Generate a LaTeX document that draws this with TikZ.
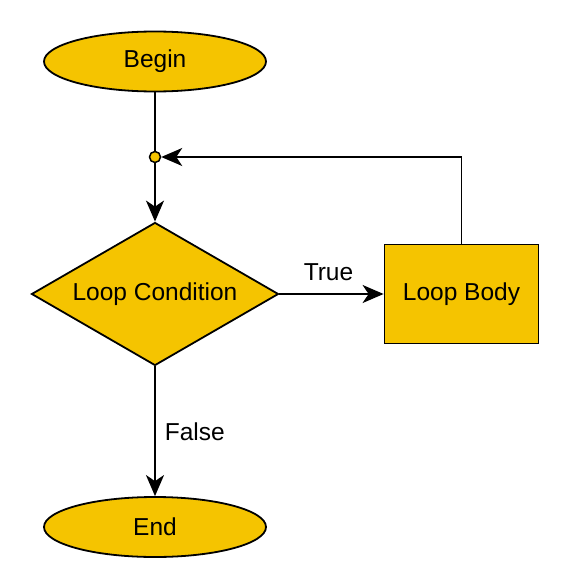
\documentclass[tikz,border=0pt]{standalone}
\usepackage{fontspec}
\setmainfont{Liberation Sans}
\usetikzlibrary{shapes.geometric,arrows.meta}
\definecolor{gold}{RGB}{245,196,0}
\begin{document}
\begin{tikzpicture}[x=1pt,y=-1pt,
  base/.style={draw=black, line width=1.8pt, fill=gold, inner sep=0pt, font=\fontsize{24.5}{28}\selectfont},
  term/.style={base, ellipse, minimum width=222pt, minimum height=60pt},
  dec/.style={base, diamond, aspect=1.73, minimum width=247pt, minimum height=143pt},
  proc/.style={base, rectangle, minimum width=154pt, minimum height=99pt},
  junction/.style={circle, draw=black, line width=1.5pt, fill=gold, minimum size=11pt, inner sep=0pt},
  conn/.style={draw=black, line width=1.8pt},
  arr/.style={conn, -{Stealth[length=21pt, width=18pt, inset=6pt]}},
  lbl/.style={font=\fontsize{24.5}{28}\selectfont, inner sep=0pt}
]
\useasboundingbox[fill=white] (0,0) rectangle (570,586);
\node[term] (begin) at (155,61.5) {Begin};
\node[junction] (dot) at (155,157) {};
\node[dec] (cond) at (155,294) {Loop Condition};
\node[proc] (body) at (461.5,294) {Loop Body};
\node[term] (end) at (155,527) {End};

\draw[conn] (begin.south) -- (dot.north);
\draw[arr] (dot.south) -- (cond.north);
\draw[arr] (body.north) |- (dot.east);
\draw[arr] (cond.east) -- node[lbl, midway, xshift=-3pt, yshift=22pt] {True} (body.west);
\draw[arr] (cond.south) -- node[lbl, midway, anchor=west, xshift=9pt] {False} (end.north);
\end{tikzpicture}
\end{document}
